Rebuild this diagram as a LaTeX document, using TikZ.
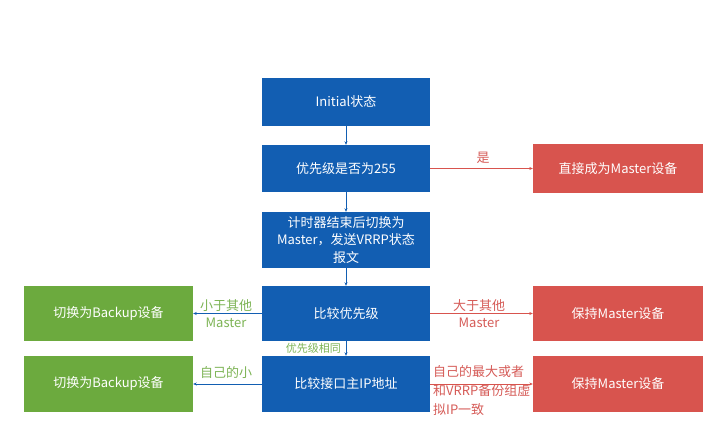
\documentclass[tikz,border=0pt]{standalone}
\usepackage{fontspec}
\setmainfont{Noto Sans CJK SC}
\usetikzlibrary{arrows.meta}
\definecolor{bluebox}{RGB}{18,94,178}
\definecolor{redbox}{RGB}{216,84,78}
\definecolor{greenbox}{RGB}{108,170,62}
\definecolor{redtext}{RGB}{214,92,88}
\definecolor{greentext}{RGB}{125,180,85}
\tikzset{
  box/.style={draw=none, text=white, font=\fontsize{13}{17.5}\selectfont, align=center, inner sep=0pt},
  bluebx/.style={box, fill=bluebox, minimum width=168pt},
  redbx/.style={box, fill=redbox, minimum width=170pt},
  greenbx/.style={box, fill=greenbox, minimum width=169pt},
  arr/.style={-{Stealth[length=3.5pt,width=3pt]}, line width=0.7pt},
  lbl/.style={font=\fontsize{13}{17}\selectfont, align=center, inner sep=0pt},
}
\begin{document}
\begin{tikzpicture}[x=1pt,y={(0pt,-1pt)}]
\useasboundingbox[fill=white] (0,0) rectangle (725,446);
% label behind box
\node[lbl, text=redtext, align=left, anchor=west, font=\fontsize{13}{19}\selectfont] (lip) at (433,391) {自己的最大或者\\和VRRP备份组虚\\拟IP一致};
% blue column
\node[bluebx, minimum height=48pt] (init) at (346,102) {Initial状态};
\node[bluebx, minimum height=47pt] (p255) at (346,168.5) {优先级是否为255};
\node[bluebx, minimum height=56pt] (timer) at (346,240) {计时器结束后切换为\\Master，发送VRRP状态\\报文};
\node[bluebx, minimum height=55pt] (cmp) at (346,313.5) {比较优先级};
\node[bluebx, minimum height=56pt] (ip) at (346,384) {比较接口主IP地址};
% red column
\node[redbx, minimum height=49pt] (direct) at (618,168.5) {直接成为Master设备};
\node[redbx, minimum height=55pt] (keep1) at (618,313.5) {保持Master设备};
\node[redbx, minimum height=56pt] (keep2) at (618,384) {保持Master设备};
% green column
\node[greenbx, minimum height=55pt] (bk1) at (108.5,313.5) {切换为Backup设备};
\node[greenbx, minimum height=56pt] (bk2) at (108.5,384) {切换为Backup设备};
% vertical arrows
\draw[arr, bluebox] (init) -- (p255);
\draw[arr, bluebox] (p255) -- (timer);
\draw[arr, bluebox] (timer) -- (cmp);
\draw[arr, bluebox] (cmp) -- (ip);
\node[lbl, text=greentext, anchor=east, font=\fontsize{11}{13}\selectfont] (same) at (341,348.5) {优先级相同};
% horizontal arrows
\draw[arr, redbox] (p255) -- (direct);
\node[lbl, text=redtext] (yes) at (483,158) {是};
\draw[arr, redbox] (cmp) -- (keep1);
\node[lbl, text=redtext] (gt) at (479,313.5) {大于其他\\Master};
\draw[arr, bluebox] (cmp) -- (bk1);
\node[lbl, text=greentext] (lt) at (226,313.5) {小于其他\\Master};
\draw[arr, redbox] (ip) -- (keep2);
\draw[arr, bluebox] (ip) -- (bk2);
\node[lbl, text=greentext] (small) at (226,373) {自己的小};
\end{tikzpicture}
\end{document}
